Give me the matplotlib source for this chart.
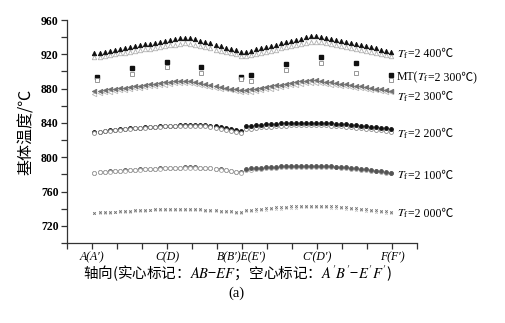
import numpy as np
import matplotlib.pyplot as plt
from matplotlib.ticker import FixedLocator, MultipleLocator
from matplotlib.transforms import offset_copy

plt.rcParams['mathtext.fontset'] = 'stix'
plt.rcParams['font.family'] = ['Liberation Serif', 'Noto Sans CJK SC']

# axial sample positions (tick units, A=1 ... F=13)
ab_pos = np.linspace(1.1, 6.95, 30)
ef_pos = np.linspace(7.15, 12.95, 30)

tick_pos = [1, 4, 7, 10, 13]
tick_labels = ["A(A′)", "C(D)", "B(B′)E(E′)", "C′(D′)", "F(F′)"]

# Tf = 2400
t2400_ab = [921.0, 922.0, 923.0, 924.2, 925.2, 926.3, 927.3, 928.4, 929.4, 930.5,
            931.5, 932.6, 933.6, 934.6, 935.6, 936.6, 937.6, 938.6, 939.4, 938.8,
            937.4, 935.9, 934.3, 932.7, 931.1, 929.5, 927.9, 926.3, 924.7, 923.2]
t2400_ab_h = [916.4, 917.3, 918.2, 919.2, 920.1, 921.0, 922.0, 922.9, 923.8, 924.8,
              925.7, 926.6, 927.6, 928.5, 929.4, 930.3, 931.2, 932.0, 932.8, 932.4,
              931.2, 929.8, 928.4, 927.0, 925.6, 924.2, 922.8, 921.4, 920.0, 918.5]
t2400_ef = [923.0, 924.4, 925.8, 927.2, 928.6, 930.0, 931.4, 932.8, 934.2, 935.6,
            937.0, 938.4, 939.8, 940.8, 941.0, 940.5, 939.3, 938.0, 936.8, 935.5,
            934.3, 933.0, 931.8, 930.5, 929.3, 928.0, 926.8, 925.5, 924.3, 923.0]
t2400_ef_h = [917.8, 919.1, 920.4, 921.7, 923.0, 924.3, 925.6, 926.9, 928.2, 929.5,
              930.8, 932.1, 933.4, 934.4, 934.8, 934.5, 933.4, 932.2, 931.0, 929.8,
              928.6, 927.4, 926.2, 925.0, 923.8, 922.6, 921.4, 920.2, 919.0, 917.9]

# Tf = 2300
t2300_ab = [876.7, 877.5, 878.2, 879.0, 879.7, 880.5, 881.2, 882.0, 882.7, 883.5,
            884.2, 885.0, 885.7, 886.5, 887.2, 888.0, 888.7, 889.3, 889.4, 888.4,
            887.3, 886.3, 885.2, 884.2, 883.1, 882.1, 881.0, 880.0, 879.0, 878.0]
t2300_ab_h = [874.2, 875.0, 875.7, 876.5, 877.2, 878.0, 878.7, 879.5, 880.2, 881.0,
              881.7, 882.5, 883.2, 884.0, 884.7, 885.5, 886.2, 886.8, 886.9, 886.0,
              885.0, 884.0, 883.0, 882.0, 881.0, 880.0, 879.0, 878.0, 877.0, 876.0]
t2300_ef = [878.0, 879.0, 879.9, 880.9, 881.8, 882.8, 883.7, 884.7, 885.6, 886.6,
            887.5, 888.5, 889.4, 890.1, 889.8, 889.0, 888.2, 887.4, 886.5, 885.7,
            884.9, 884.1, 883.3, 882.5, 881.7, 880.8, 880.0, 879.2, 878.5, 877.8]
t2300_ef_h = [875.6, 876.5, 877.4, 878.3, 879.2, 880.1, 881.0, 881.9, 882.8, 883.7,
              884.6, 885.5, 886.4, 887.1, 887.0, 886.3, 885.5, 884.8, 884.0, 883.2,
              882.5, 881.7, 881.0, 880.2, 879.4, 878.7, 877.9, 877.1, 876.4, 875.6]

# Tf = 2200
t2200_ab = [829.0, 829.8, 830.6, 831.3, 831.9, 832.5, 833.1, 833.6, 834.1, 834.6,
            835.0, 835.4, 835.8, 836.2, 836.5, 836.8, 837.0, 837.3, 837.5, 837.6,
            837.7, 837.6, 837.3, 836.8, 836.1, 835.3, 834.3, 833.2, 832.0, 830.6]
t2200_ab_h = [828.6, 829.4, 830.2, 830.9, 831.5, 832.1, 832.7, 833.2, 833.7, 834.2,
              834.6, 835.0, 835.4, 835.8, 836.1, 836.4, 836.6, 836.8, 836.9, 836.9,
              836.8, 836.5, 836.0, 835.3, 834.4, 833.4, 832.3, 831.1, 829.8, 828.5]
t2200_ef = [836.1, 836.8, 837.4, 838.0, 838.5, 838.9, 839.3, 839.6, 839.9, 840.1,
            840.3, 840.4, 840.5, 840.5, 840.4, 840.2, 839.9, 839.6, 839.2, 838.8,
            838.3, 837.8, 837.3, 836.7, 836.1, 835.5, 834.9, 834.3, 833.7, 833.1]
t2200_ef_h = [832.5, 833.3, 834.0, 834.7, 835.3, 835.8, 836.3, 836.7, 837.0, 837.3,
              837.5, 837.6, 837.7, 837.7, 837.6, 837.4, 837.1, 836.8, 836.4, 835.9,
              835.4, 834.8, 834.2, 833.6, 833.0, 832.4, 831.8, 831.2, 830.6, 830.0]

# Tf = 2100
t2100_ab = [782.1, 782.6, 783.1, 783.5, 783.9, 784.3, 784.7, 785.1, 785.5, 785.8,
            786.1, 786.4, 786.7, 787.0, 787.3, 787.5, 787.7, 787.9, 788.1, 788.2,
            788.2, 788.0, 787.6, 787.1, 786.5, 785.8, 785.0, 784.2, 783.3, 782.4]
t2100_ab_h = [781.9, 782.4, 782.9, 783.3, 783.7, 784.1, 784.5, 784.9, 785.3, 785.6,
              785.9, 786.2, 786.5, 786.8, 787.1, 787.3, 787.5, 787.7, 787.9, 788.0,
              788.0, 787.8, 787.4, 786.9, 786.3, 785.6, 784.8, 784.0, 783.1, 782.2]
t2100_ef = [786.4, 787.0, 787.5, 788.0, 788.4, 788.8, 789.1, 789.4, 789.7, 789.9,
            790.1, 790.2, 790.3, 790.3, 790.2, 790.0, 789.8, 789.5, 789.1, 788.7,
            788.2, 787.7, 787.1, 786.5, 785.8, 785.1, 784.4, 783.6, 782.8, 782.0]
t2100_ef_h = [784.8, 785.4, 786.0, 786.5, 787.0, 787.4, 787.8, 788.1, 788.4, 788.6,
              788.8, 789.0, 789.1, 789.1, 789.0, 788.9, 788.7, 788.4, 788.1, 787.7,
              787.2, 786.7, 786.1, 785.5, 784.9, 784.2, 783.5, 782.8, 782.0, 781.2]

# Tf = 2000
t2000_ab = [735.4, 735.7, 736.0, 736.4, 736.7, 737.0, 737.3, 737.6, 737.9, 738.2,
            738.5, 738.8, 739.1, 739.4, 739.7, 739.9, 740.0, 740.0, 739.9, 739.7,
            739.4, 739.1, 738.8, 738.4, 738.0, 737.6, 737.2, 736.8, 736.4, 736.0]
t2000_ab_h = [734.5, 734.8, 735.1, 735.5, 735.8, 736.1, 736.4, 736.7, 737.0, 737.3,
              737.6, 737.9, 738.2, 738.5, 738.7, 738.9, 739.0, 739.0, 738.9, 738.7,
              738.4, 738.1, 737.8, 737.4, 737.0, 736.6, 736.2, 735.8, 735.4, 735.0]
t2000_ef = [738.3, 738.8, 739.4, 739.9, 740.4, 740.9, 741.4, 741.8, 742.2, 742.6,
            742.9, 743.2, 743.4, 743.5, 743.5, 743.4, 743.2, 742.9, 742.6, 742.2,
            741.8, 741.3, 740.8, 740.2, 739.6, 739.0, 738.3, 737.6, 736.9, 736.2]
t2000_ef_h = [736.8, 737.3, 737.8, 738.3, 738.8, 739.3, 739.7, 740.1, 740.5, 740.8,
              741.1, 741.4, 741.6, 741.7, 741.7, 741.6, 741.4, 741.1, 740.8, 740.4,
              740.0, 739.5, 739.0, 738.4, 737.8, 737.2, 736.6, 736.0, 735.4, 734.8]

# measured MT points (Tf = 2300)
mt_pos = [1.19, 2.59, 3.99, 5.36, 6.95, 7.36, 8.76, 10.15, 11.56, 12.95]
mt_solid = [893.4, 903.9, 910.9, 905.4, 893.8, 896.1, 908.5, 916.7, 909.7, 895.8]
mt_hollow = [890.3, 896.5, 905.8, 898.1, 891.1, 889.2, 901.9, 909.7, 898.8, 890.3]

labels = ["2 400", "MT", "2 300", "2 200", "2 100", "2 000"]
label_y = [916.5, 890.0, 866.5, 823.5, 775.0, 730.5]

fig = plt.figure(figsize=(5.06, 3.23), dpi=100)
ax = fig.add_axes([0.1324, 0.2477, 0.6917, 0.6903])

# (solid AB, solid EF, hollow AB, hollow EF, marker, solid colour, hollow edge, size)
series = [
    (t2400_ab, t2400_ef, t2400_ab_h, t2400_ef_h, '^', '#111111', '#b0b0b0', 3.2),
    (t2300_ab, t2300_ef, t2300_ab_h, t2300_ef_h, '<', '#707070', '#b8b8b8', 3.2),
    (t2200_ab, t2200_ef, t2200_ab_h, t2200_ef_h, 'o', '#111111', '#8a8a8a', 2.8),
    (t2100_ab, t2100_ef, t2100_ab_h, t2100_ef_h, 'o', '#555555', '#a8a8a8', 2.8),
    (t2000_ab, t2000_ef, t2000_ab_h, t2000_ef_h, 'x', '#707070', '#c0c0c0', 1.8),
]

for s_ab, s_ef, h_ab, h_ef, mk, col, hcol, ms in series:
    for pos, vals in ((ab_pos, s_ab), (ef_pos, s_ef)):
        ax.plot(pos, vals, ls='none', marker=mk, ms=ms, mfc=col, mec=col,
                mew=0.6, zorder=2)
    for pos, vals in ((ab_pos, h_ab), (ef_pos, h_ef)):
        ax.plot(pos, vals, ls='none', marker=mk, ms=ms,
                mfc='white' if mk != 'x' else hcol, mec=hcol, mew=0.6,
                zorder=3 if mk == 'o' and vals is h_ab else 1)

ax.plot(mt_pos, mt_solid, ls='none', marker='s', ms=2.8, mfc='#111111', mec='#111111')
ax.plot(mt_pos, mt_hollow, ls='none', marker='s', ms=2.8, mfc='white', mec='#888888',
        mew=0.6)

# series labels: T_f in mathtext, the rest as plain text so ℃ can fall back
for name, yv in zip(labels, label_y):
    if name == "MT":
        ax.text(13.2, yv, "MT(", fontsize=8.5, va='baseline', ha='left')
        tr = offset_copy(ax.transData, fig=fig, x=14.5, y=0, units='points')
        ax.text(13.2, yv, "$T_\\mathrm{f}$", fontsize=8.5, va='baseline',
                ha='left', transform=tr)
        tr = offset_copy(ax.transData, fig=fig, x=22.5, y=0, units='points')
        ax.text(13.2, yv, "=2 300℃)", fontsize=8.5, va='baseline', ha='left',
                transform=tr)
    else:
        ax.text(13.2, yv, "$T_\\mathrm{f}$", fontsize=8.5, va='baseline', ha='left')
        tr = offset_copy(ax.transData, fig=fig, x=8, y=0, units='points')
        ax.text(13.2, yv, "=" + name + "℃", fontsize=8.5, va='baseline',
                ha='left', transform=tr)

ax.set_xlim(0, 14)
ax.set_ylim(700, 960)
ax.xaxis.set_major_locator(FixedLocator(tick_pos))
ax.xaxis.set_minor_locator(FixedLocator([p for p in range(15) if p not in tick_pos]))
ax.set_xticklabels(tick_labels, fontstyle='italic', fontsize=8.5)
ax.set_yticks(np.arange(720, 961, 40))
ax.yaxis.set_minor_locator(MultipleLocator(20))
for lab in ax.get_yticklabels():
    lab.set_fontweight('bold')
    lab.set_fontsize(8.5)

ax.tick_params(which='both', direction='out', width=0.9, color='#333333')
ax.tick_params(which='major', length=4, pad=2)
ax.tick_params(which='minor', length=4)
ax.spines['top'].set_visible(False)
ax.spines['right'].set_visible(False)
for sp in ('left', 'bottom'):
    ax.spines[sp].set_linewidth(0.9)
    ax.spines[sp].set_color('#333333')

ax.set_ylabel("基体温度/℃", fontsize=11.5, family=['Noto Sans CJK SC'], labelpad=4)
fig.text(0.47, 0.155, "轴向(实心标记：$AB$−$EF$；空心标记：$A'B'$−$E'F'$)",
         fontsize=10.5, ha='center', va='center', family=['Noto Sans CJK SC'])
fig.text(0.468, 0.093, "(a)", fontsize=10.5, ha='center', va='center')

fig.savefig("out.png", dpi=100)
